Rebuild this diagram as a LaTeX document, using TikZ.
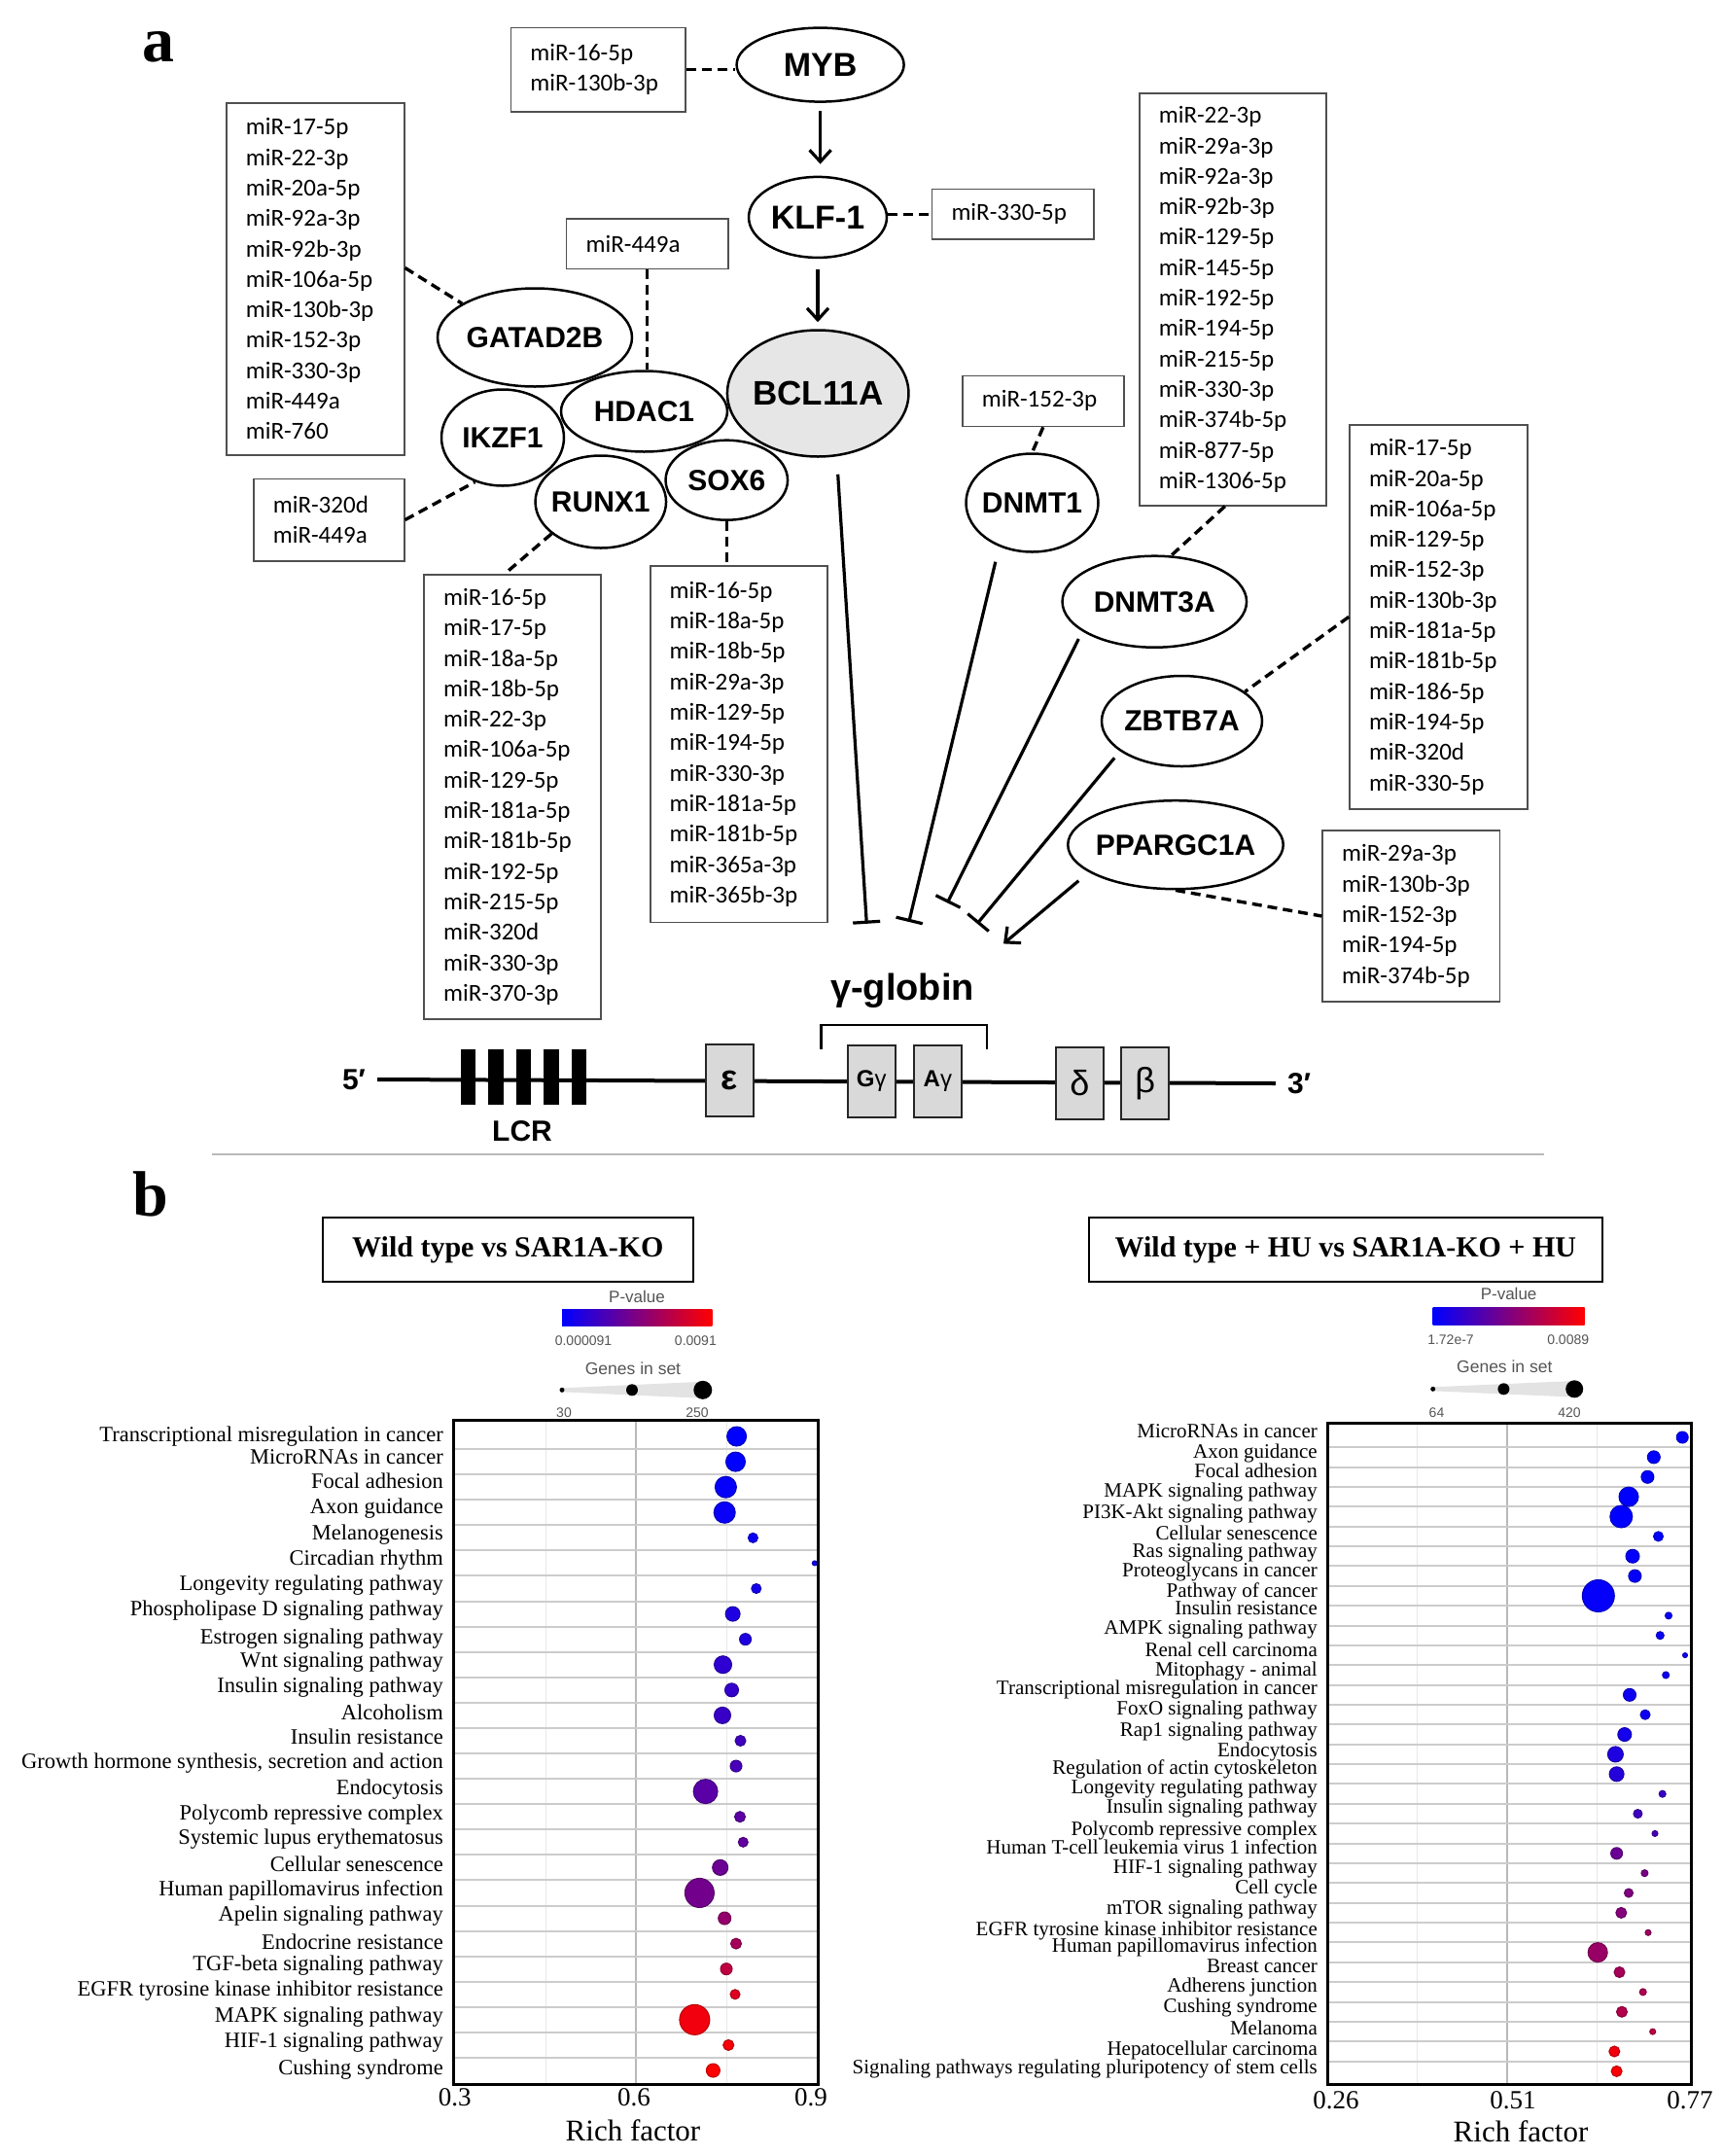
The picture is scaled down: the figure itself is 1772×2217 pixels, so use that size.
\documentclass[tikz,border=0pt]{standalone}
\usepackage{fontspec}
\setmainfont{Liberation Serif}
\newfontfamily\arialf{Liberation Sans}
\newfontfamily\calibf{Carlito}
\usetikzlibrary{shapes.geometric,arrows.meta}
\definecolor{boxgray}{HTML}{505050}
\definecolor{bclfill}{HTML}{E6E6E6}
\definecolor{genefill}{HTML}{D9D9D9}
\definecolor{leggray}{HTML}{555555}
\newcommand\myfs[2]{\fontsize{#1}{#2}\selectfont}
\begin{document}
\begin{tikzpicture}[x=1pt,y=-1pt,
  gnode/.style={ellipse, draw, line width=2.5pt, fill=white, inner sep=0pt},
  gtxt/.style={font=\arialf\bfseries\myfs{#1}{#1}, inner sep=0pt},
  gtxt/.default=30,
  mirbox/.style={draw=boxgray, line width=1.6pt, anchor=north west, align=left,
    inner xsep=20pt, inner ysep=0pt, font=\calibf\myfs{25}{31.3}},
  dsh/.style={line width=3.4pt, dash pattern=on 10pt off 6pt},
  act/.style={line width=3.2pt, -{Straight Barb[length=12pt,width=22pt,line width=3.2pt]}},
  inh/.style={line width=3.2pt, -{Bar[width=28pt,line width=3.2pt]}},
  genebox/.style={draw=black!85, line width=2.5pt, fill=genefill, minimum width=49pt,
    minimum height=74pt, inner sep=0pt, font=\arialf\myfs{36}{36}},
  titlebox/.style={draw, line width=2pt, minimum height=65.4pt, inner sep=0pt,
    font=\bfseries\myfs{30}{30}},
  legtxt/.style={font=\arialf\myfs{#1}{#1}, text=leggray, inner sep=0pt},
  llab/.style={anchor=east, inner sep=0pt, text height=15.3pt, text depth=5pt, font=\myfs{22.5}{22.5}},
  rlab/.style={anchor=east, inner sep=0pt, text height=14.3pt, text depth=4.6pt, font=\myfs{21}{21}},
  axlab/.style={inner sep=0pt, font=\myfs{27}{27}},
  rich/.style={inner sep=0pt, font=\myfs{31}{31}}
]
\useasboundingbox (0,0) rectangle (1772,2217);
\fill[white] (0,0) rectangle (1772,2217);

% ---------------- panel a ----------------
\node[anchor=base west, inner sep=0pt, font=\bfseries\myfs{66}{66}] (pa) at (146,63) {a};

% miRNA boxes
\node[mirbox, text width=143pt, minimum height=362pt] (b1) at (232,105)
 {miR-17-5p\\miR-22-3p\\miR-20a-5p\\miR-92a-3p\\miR-92b-3p\\miR-106a-5p\\miR-130b-3p\\miR-152-3p\\miR-330-3p\\miR-449a\\miR-760};
\node[mirbox, text width=115pt, minimum height=84.5pt] (b2) at (260,491.5)
 {miR-320d\\miR-449a};
\node[mirbox, text width=142pt, minimum height=457pt] (b3) at (435.4,590)
 {miR-16-5p\\miR-17-5p\\miR-18a-5p\\miR-18b-5p\\miR-22-3p\\miR-106a-5p\\miR-129-5p\\miR-181a-5p\\miR-181b-5p\\miR-192-5p\\miR-215-5p\\miR-320d\\miR-330-3p\\miR-370-3p};
\node[mirbox, text width=142.2pt, minimum height=366.4pt] (b4) at (667.9,581.3)
 {miR-16-5p\\miR-18a-5p\\miR-18b-5p\\miR-29a-3p\\miR-129-5p\\miR-194-5p\\miR-330-3p\\miR-181a-5p\\miR-181b-5p\\miR-365a-3p\\miR-365b-3p};
\node[mirbox, text width=139.4pt, minimum height=86.2pt] (b5) at (524.6,27.7)
 {miR-16-5p\\miR-130b-3p};
\node[mirbox, text width=126.3pt, minimum height=51.5pt] (b6) at (957.7,193.7) {miR-330-5p};
\node[mirbox, text width=126.1pt, minimum height=51.6pt] (b7) at (581.8,224) {miR-449a};
\node[mirbox, text width=126pt, minimum height=52.2pt] (b8) at (989,385.5) {miR-152-3p};
\node[mirbox, text width=152pt, minimum height=423.7pt] (b9) at (1171,95.3)
 {miR-22-3p\\miR-29a-3p\\miR-92a-3p\\miR-92b-3p\\miR-129-5p\\miR-145-5p\\miR-192-5p\\miR-194-5p\\miR-215-5p\\miR-330-3p\\miR-374b-5p\\miR-877-5p\\miR-1306-5p};
\node[mirbox, text width=143pt, minimum height=395pt] (b10) at (1387.2,436)
 {miR-17-5p\\miR-20a-5p\\miR-106a-5p\\miR-129-5p\\miR-152-3p\\miR-130b-3p\\miR-181a-5p\\miR-181b-5p\\miR-186-5p\\miR-194-5p\\miR-320d\\miR-330-5p};
\node[mirbox, text width=142.2pt, minimum height=175.6pt] (b11) at (1359.4,853.4)
 {miR-29a-3p\\miR-130b-3p\\miR-152-3p\\miR-194-5p\\miR-374b-5p};

% gene ellipses
\node[gnode, minimum width=172pt, minimum height=76pt, label={[gtxt=34]center:MYB}] (myb) at (843.6,66.6) {};
\node[gnode, minimum width=142pt, minimum height=83pt, label={[gtxt=34]center:KLF-1}] (klf) at (841,223.4) {};
\node[gnode, minimum width=200pt, minimum height=101pt, label={[gtxt]center:GATAD2B}] (gatad) at (550,347) {};
\node[gnode, minimum width=126pt, minimum height=99pt, label={[gtxt]center:IKZF1}] (ikzf) at (517,450) {};
\node[gnode, minimum width=171pt, minimum height=83pt, label={[gtxt]center:HDAC1}] (hdac) at (662.5,423) {};
\node[gnode, minimum width=134.5pt, minimum height=95pt, label={[gtxt]center:RUNX1}] (runx) at (617.8,516) {};
\node[gnode, minimum width=125.5pt, minimum height=82pt, label={[gtxt]center:SOX6}] (sox) at (747.3,493.7) {};
\node[gnode, fill=bclfill, minimum width=186.5pt, minimum height=130pt, label={[gtxt=35]center:BCL11A}] (bcl) at (841.2,404.5) {};
\node[gnode, minimum width=136pt, minimum height=101pt, label={[gtxt]center:DNMT1}] (dnmt1) at (1061.5,517) {};
\node[gnode, minimum width=189.5pt, minimum height=94pt, label={[gtxt]center:DNMT3A}] (dnmt3a) at (1187.3,618.7) {};
\node[gnode, minimum width=165pt, minimum height=93pt, label={[gtxt]center:ZBTB7A}] (zbtb) at (1215.5,741.5) {};
\node[gnode, minimum width=221.5pt, minimum height=91pt, label={[gtxt]center:PPARGC1A}] (ppar) at (1209,868.7) {};

% dashed links
\draw[dsh] (b1.7) -- (gatad.155);
\draw[dsh] (b2.east) -- (ikzf.238);
\draw[dsh] (runx.213) -- ([xshift=-8pt]b3.north);
\draw[dsh] (sox.south) -- (sox.south |- b4.north);
\draw[dsh] (b7.south) -- (b7.south |- hdac.north);
\draw[dsh] (b5.east) -- (b5.east -| myb.west);
\draw[dsh] (klf.east |- b6.west) -- (b6.west);
\draw[dsh] (b8.south) -- (dnmt1.north);
\draw[dsh] ([xshift=-8pt]b9.south) -- (dnmt3a.70);
\draw[dsh] (b10.west) -- (zbtb.25);
\draw[dsh] (ppar.south) -- (b11.west);

% activation arrows
\draw[act, shorten <=8pt, shorten >=12pt] (myb.south) -- (myb.south |- klf.north);
\draw[act, shorten <=11pt, shorten >=7pt] (klf.south) -- (klf.south |- bcl.north);

% inhibition to gamma-globin
\coordinate (iB) at (891.3,949.8);
\coordinate (iD1) at (934.8,948);
\coordinate (iD3) at (974.3,928.4);
\coordinate (iZ) at (1005,949.8);
\coordinate (aP) at (1032,970.4);
\draw[inh] ([xshift=20.5pt,yshift=-17pt]bcl.south) -- (iB);
\draw[inh] ([xshift=-37.7pt,yshift=-9pt]dnmt1.south) -- (iD1);
\draw[inh] ([xshift=-78pt,yshift=-38.3pt]dnmt3a.center) -- (iD3);
\draw[inh] ([xshift=-69.3pt,yshift=-37.8pt]zbtb.center) -- (iZ);
\draw[act] ([xshift=-99.7pt,yshift=-37pt]ppar.center) -- (aP);

\node[anchor=base, inner sep=0pt, font=\arialf\bfseries\myfs{38}{38}] (gglob) at (928,1028) {γ-globin};

% gene locus
\node[inner sep=0pt, inner xsep=12pt, font=\arialf\bfseries\myfs{30}{30}] (five) at (364,1110) {5′};
\node[inner sep=0pt, inner xsep=12pt, font=\arialf\bfseries\myfs{30}{30}] (three) at (1336,1114) {3′};
\draw[line width=4pt] (five.east) -- (three.west);
\foreach \k in {0,...,4} \fill (474+28.4*\k,1079) rectangle ++(15.4,56.7);
\node[inner sep=0pt, font=\arialf\bfseries\myfs{30}{30}] (lcr) at (537,1163.5) {LCR};
\node[genebox, font=\arialf\bfseries\myfs{36}{36}] (eps) at (750.4,1110.9) {ε};
\node[genebox, font=\arialf\myfs{24}{24}] (gg) at (896.3,1112) {\textbf{G}γ};
\node[genebox, font=\arialf\myfs{24}{24}] (ag) at (964.4,1112) {\textbf{A}γ};
\node[genebox] (del) at (1110.3,1114) {δ};
\node[genebox] (bet) at (1177.6,1114) {β};
\draw[line width=2.5pt] (844.4,1079) -- (844.4,1054) -- (1014.8,1054) -- (1014.8,1079);

% separator
\draw[gray!55, line width=2pt] (218,1187.3) -- (1588,1187.3);

% ---------------- panel b ----------------
\node[anchor=base west, inner sep=0pt, font=\bfseries\myfs{66}{66}] (pb) at (136,1250.7) {b};

\node[titlebox, minimum width=381.6pt] (t1) at (522.4,1285) {Wild type vs SAR1A-KO};
\node[titlebox, minimum width=528.7pt] (t2) at (1383.85,1285) {Wild type + HU vs SAR1A-KO + HU};

% legends left
\node[legtxt=17] (pv1) at (655,1333) {P-value};
\shade[left color=blue, right color=red, middle color=red!50!blue] (578,1346) rectangle (732.3,1363.3);
\node[legtxt=14] (pv1a) at (600,1379) {0.000091};
\node[legtxt=14] (pv1b) at (715.4,1379) {0.0091};
\node[legtxt=17.5] (gs1) at (651,1407.5) {Genes in set};
\fill[gray!22] (578,1427.3) -- (722.8,1420.8) -- (722.8,1437.8) -- (578,1431.3) -- cycle;
\fill (578,1429.3) circle[radius=2.5pt];
\fill (650,1429.3) circle[radius=6pt];
\fill (722.8,1429.3) circle[radius=9.5pt];
\node[legtxt=14] (gs1a) at (580,1453) {30};
\node[legtxt=14] (gs1b) at (717,1453) {250};

% legends right
\node[legtxt=17] (pv2) at (1551.6,1330.5) {P-value};
\shade[left color=blue, right color=red, middle color=red!50!blue] (1473.7,1344.3) rectangle (1629.6,1362);
\node[legtxt=14] (pv2a) at (1492,1377.5) {1.72e-7};
\node[legtxt=14] (pv2b) at (1612.7,1377.5) {0.0089};
\node[legtxt=17.5] (gs2) at (1547.3,1405.5) {Genes in set};
\fill[gray!22] (1473.7,1426.3) -- (1619.2,1420) -- (1619.2,1436.6) -- (1473.7,1430.3) -- cycle;
\fill (1473.7,1428.3) circle[radius=2.5pt];
\fill (1546.4,1428.3) circle[radius=6pt];
\fill (1619.2,1428.3) circle[radius=9pt];
\node[legtxt=14] (gs2a) at (1477.5,1453) {64};
\node[legtxt=14] (gs2b) at (1614,1453) {420};

% left plot grid
\foreach \gx in {561,747} \draw[gray!18, line width=1pt] (\gx,1461) -- (\gx,2143.7);
\draw[gray!55, line width=1.3pt] (654,1461) -- (654,2143.7);
\foreach \k in {1,...,25} \draw[gray!40, line width=2pt] (466.9,1477+26.08*\k-13.04) -- (841.8,1477+26.08*\k-13.04);

\foreach \lab/\ly/\dx/\rr/\pp [count=\i] in {
 {Transcriptional misregulation in cancer}/1476.9/757.6/10/0,
 {MicroRNAs in cancer}/1499.9/756.5/10/0,
 {Focal adhesion}/1525.8/746.4/11/2,
 {Axon guidance}/1551.8/745.2/11/3,
 {Melanogenesis}/1578.2/774.4/5/5,
 {Circadian rhythm}/1604.1/837.8/2.5/5,
 {Longevity regulating pathway}/1630/777.8/5/8,
 {Phospholipase D signaling pathway}/1656.5/753.6/7.5/12,
 {Estrogen signaling pathway}/1685.3/766.6/6/12,
 {Wnt signaling pathway}/1709.8/743.5/9/18,
 {Insulin signaling pathway}/1735.2/752.5/7/20,
 {Alcoholism}/1763.1/743/8.5/22,
 {Insulin resistance}/1788/761.5/5.5/25,
 {Growth hormone synthesis, secretion and action}/1813/757/6/28,
 {Endocytosis}/1839.9/725.6/12.5/35,
 {Polycomb repressive complex}/1865.9/761/5.5/36,
 {Systemic lupus erythematosus}/1891.8/764.3/5/38,
 {Cellular senescence}/1919.7/740.7/8/42,
 {Human papillomavirus infection}/1944.1/719.4/15/45,
 {Apelin signaling pathway}/1970.1/745.2/6.5/58,
 {Endocrine resistance}/1998.9/757/5.5/65,
 {TGF-beta signaling pathway}/2021.4/747/6/75,
 {EGFR tyrosine kinase inhibitor resistance}/2046.9/756/5/88,
 {MAPK signaling pathway}/2074.7/714.4/15.5/95,
 {HIF-1 signaling pathway}/2100.7/749.2/5.5/97,
 {Cushing syndrome}/2128.1/733.4/7/100}{
 \node[llab] (L\i) at (456,\ly) {\lab};
 \pgfmathsetmacro\dy{1477+26.08*(\i-1)}
 \fill[red!\pp!blue, draw=red!\pp!blue!75!black, line width=1pt] (\dx,\dy) circle[radius=\rr pt];
}
\draw[line width=3pt] (466.9,1460.8) rectangle (841.8,2143.7);
\node[axlab] (x1a) at (467.7,2157) {0.3};
\node[axlab] (x1b) at (652,2157) {0.6};
\node[axlab] (x1c) at (834,2157) {0.9};
\node[rich] (rf1) at (651,2191) {Rich factor};

% right plot grid
\foreach \gx in {1457.5,1642} \draw[gray!18, line width=1pt] (\gx,1463.5) -- (\gx,2143.7);
\draw[gray!55, line width=1.3pt] (1550,1463.5) -- (1550,2143.7);
\foreach \k in {1,...,32} \draw[gray!40, line width=2pt] (1365,1478+20.37*\k-10.185) -- (1739.5,1478+20.37*\k-10.185);

\foreach \lab/\ly/\dx/\rr/\pp [count=\i] in {
 {MicroRNAs in cancer}/1473.5/1730.2/6/0,
 {Axon guidance}/1495/1700.8/6.5/0,
 {Focal adhesion}/1514.6/1694.4/6.5/0,
 {MAPK signaling pathway}/1534.6/1675/10/0,
 {PI3K-Akt signaling pathway}/1556.7/1667.3/11.5/0,
 {Cellular senescence}/1578.2/1705.5/5/0,
 {Ras signaling pathway}/1596.3/1679/7/2,
 {Proteoglycans in cancer}/1616.3/1681.4/6.5/2,
 {Pathway of cancer}/1637.4/1643.8/16.5/2,
 {Insulin resistance}/1655.5/1716/3.5/3,
 {AMPK signaling pathway}/1676/1707.3/4/3,
 {Renal cell carcinoma}/1698.5/1733/2.5/5,
 {Mitophagy - animal}/1719.1/1713.2/3.5/5,
 {Transcriptional misregulation in cancer}/1737.7/1676/6.5/5,
 {FoxO signaling pathway}/1758.2/1692/5/5,
 {Rap1 signaling pathway}/1780.7/1670.8/7/8,
 {Endocytosis}/1801.3/1661.4/8/12,
 {Regulation of actin cytoskeleton}/1819.9/1662.6/7.5/14,
 {Longevity regulating pathway}/1839.9/1709.7/3.5/22,
 {Insulin signaling pathway}/1859.5/1684.4/4.5/25,
 {Polycomb repressive complex}/1882.5/1702/3/28,
 {Human T-cell leukemia virus 1 infection}/1901.6/1662.6/6/42,
 {HIF-1 signaling pathway}/1922.1/1691.4/3.5/48,
 {Cell cycle}/1942.2/1675/4.5/50,
 {mTOR signaling pathway}/1963.7/1667.3/5.5/52,
 {EGFR tyrosine kinase inhibitor resistance}/1985.2/1695/3/62,
 {Human papillomavirus infection}/2002.8/1643.2/10/60,
 {Breast cancer}/2023.4/1665.5/5.5/65,
 {Adherens junction}/2043.4/1689.7/3.5/68,
 {Cushing syndrome}/2065/1668/5.5/70,
 {Melanoma}/2088/1699.7/3/75,
 {Hepatocellular carcinoma}/2108.5/1660.3/5.5/95,
 {Signaling pathways regulating pluripotency of stem cells}/2128.1/1662.6/5.5/98}{
 \node[rlab] (R\i) at (1355,\ly) {\lab};
 \pgfmathsetmacro\dy{1478+20.37*(\i-1)}
 \fill[red!\pp!blue, draw=red!\pp!blue!75!black, line width=1pt] (\dx,\dy) circle[radius=\rr pt];
}
\draw[line width=3pt] (1365,1463.5) rectangle (1739.5,2143.7);
\node[axlab] (x2a) at (1374,2160) {0.26};
\node[axlab] (x2b) at (1556,2160) {0.51};
\node[axlab] (x2c) at (1738,2160) {0.77};
\node[rich] (rf2) at (1564,2192) {Rich factor};
\end{tikzpicture}
\end{document}
